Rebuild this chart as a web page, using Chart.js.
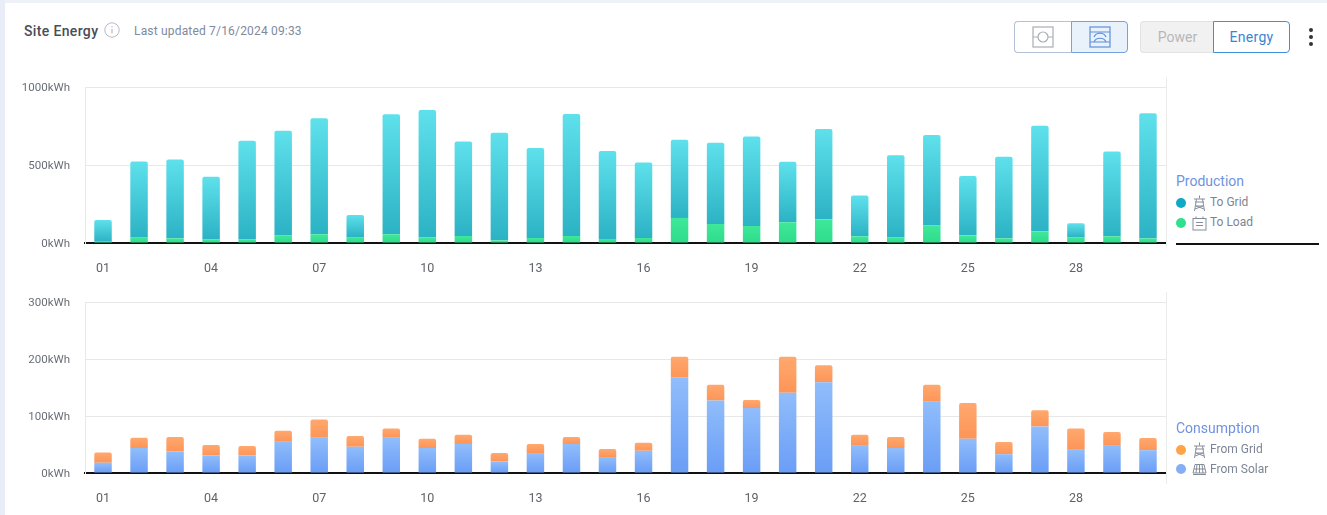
<!DOCTYPE html>
<html>
<head>
<meta charset="utf-8">
<title>Site Energy</title>
<script src="https://cdn.jsdelivr.net/npm/chart.js@4"></script>
<style>
  html, body { margin: 0; padding: 0; background: #fff; }
  body { width: 1327px; height: 515px; position: relative; overflow: hidden; font-family: Roboto, sans-serif; }
  .abs { position: absolute; white-space: nowrap; }
  .edge-top { left: 0; top: 0; width: 1327px; height: 3px; background: #eef1f7; }
  .edge-left { left: 0; top: 0; width: 5px; height: 515px; background: #e8edf8; }
  canvas { position: absolute; left: 0; }
  .title { left: 24px; top: 22px; font-size: 14px; line-height: 18px; font-weight: 500; color: #4a4d55; letter-spacing: 0.35px; }
  .updated { left: 134px; top: 23px; font-size: 12px; line-height: 16px; color: #7d8aa0; letter-spacing: 0.18px; }
  .seg { box-sizing: border-box; top: 21px; height: 32px; }
  .btn { font-size: 14px; line-height: 30px; text-align: center; }
  .legend-title { left: 1176px; font-size: 14px; line-height: 18px; color: #6f93e0; }
  .legend-text { left: 1210px; font-size: 12px; line-height: 16px; color: #7c8595; }
  .dot { width: 10px; height: 10px; border-radius: 50%; left: 1176px; }
  .rule { background: #ececec; width: 1px; }
</style>
</head>
<body>
<div class="abs edge-top"></div>
<div class="abs edge-left"></div>

<div class="abs title">Site Energy</div>
<svg class="abs" style="left:104px;top:22px" width="16" height="16" viewBox="0 0 16 16" fill="none" stroke="#b4b9c4">
  <circle cx="8" cy="8" r="7.2"/><path d="M8 7v4.5M8 4.3v1.2" stroke-width="1.2"/>
</svg>
<div class="abs updated">Last updated 7/16/2024 09:33</div>

<!-- View switch -->
<div class="abs seg" style="left:1014px;width:58px;border:1px solid #b3c0d6;border-right:none;border-radius:4px 0 0 4px;"></div>
<div class="abs seg" style="left:1071px;width:57px;border:1px solid #74a2e2;border-radius:0 4px 4px 0;background:#e9f1fb;"></div>
<svg class="abs" style="left:1032px;top:26px" width="22" height="22" viewBox="0 0 22 22" fill="none" stroke="#a9adb6" stroke-width="1.2">
  <rect x="1" y="1" width="20" height="20"/><circle cx="11" cy="11" r="5"/><path d="M1 11h5M16 11h5"/>
</svg>
<svg class="abs" style="left:1089px;top:26px" width="22" height="22" viewBox="0 0 22 22" fill="none" stroke="#5f8fdc" stroke-width="1.2">
  <rect x="1" y="1" width="20" height="20"/><path d="M1 6h20M1 16h20M5 11c2-5 10-5 12 0M5 16c2-5 10-5 12 0"/>
</svg>

<!-- Power / Energy switch -->
<div class="abs seg btn" style="left:1140px;width:74px;background:#f1f1f1;border:1px solid #e2e2e2;border-right:none;border-radius:4px 0 0 4px;color:#b7b7b7;">Power</div>
<div class="abs seg btn" style="left:1213px;width:77px;background:#fff;border:1px solid #3e90dc;border-radius:0 4px 4px 0;color:#3a86d4;letter-spacing:0.3px;">Energy</div>
<svg class="abs" style="left:1306px;top:27px" width="10" height="20" viewBox="0 0 10 20" fill="#333">
  <circle cx="5" cy="3" r="2"/><circle cx="5" cy="10" r="2"/><circle cx="5" cy="17" r="2"/>
</svg>

<canvas id="productionChart" width="1170" height="210" style="top:70px;width:1170px;height:210px"></canvas>
<canvas id="consumptionChart" width="1170" height="225" style="top:285px;width:1170px;height:225px"></canvas>

<!-- Right-hand edges of the plots -->
<div class="abs rule" style="left:1166px;top:77px;height:170px"></div>
<div class="abs rule" style="left:1166px;top:292px;height:192px"></div>

<!-- Production legend -->
<div class="abs legend-title" style="top:172px">Production</div>
<div class="abs dot" style="top:198px;background:#0fa9c4"></div>
<svg class="abs" style="left:1192px;top:195px" width="15" height="17" viewBox="0 0 15 17" fill="none" stroke="#868d9a">
  <path d="M7.5 0.5v3M2 4h11M3 7h9M4.5 4L2.5 16M10.5 4l2 12M4 11h7M3 14l8-3M12 14l-8-3"/>
</svg>
<div class="abs legend-text" style="top:194px">To Grid</div>
<div class="abs dot" style="top:218px;background:#2fe08c"></div>
<svg class="abs" style="left:1192px;top:216px" width="15" height="15" viewBox="0 0 15 15" fill="none" stroke="#868d9a">
  <rect x="1" y="2.5" width="13" height="11.5"/><path d="M4 2.5V0.5M11 2.5V0.5M4 6.5h7M4 9.5h7"/>
</svg>
<div class="abs legend-text" style="top:214px">To Load</div>
<div class="abs" style="left:1176px;top:243px;width:143px;height:2px;background:#111"></div>

<!-- Consumption legend -->
<div class="abs legend-title" style="top:419px">Consumption</div>
<div class="abs dot" style="top:445px;background:#ffa347"></div>
<svg class="abs" style="left:1192px;top:442px" width="15" height="17" viewBox="0 0 15 17" fill="none" stroke="#868d9a">
  <path d="M7.5 0.5v3M2 4h11M3 7h9M4.5 4L2.5 16M10.5 4l2 12M4 11h7M3 14l8-3M12 14l-8-3"/>
</svg>
<div class="abs legend-text" style="top:441px">From Grid</div>
<div class="abs dot" style="top:464px;background:#85aef7"></div>
<svg class="abs" style="left:1192px;top:463px" width="15" height="12" viewBox="0 0 15 12" fill="none" stroke="#868d9a">
  <path d="M3 1.5h9L14 10H1zM7.5 1.5V10M5 1.5L4 10M10 1.5l1 8.5M2 6h11M1 11.5h13"/>
</svg>
<div class="abs legend-text" style="top:461px">From Solar</div>

<script>
const days = ['01','02','03','04','05','06','07','08','09','10','11','12','13','14','15',
              '16','17','18','19','20','21','22','23','24','25','26','27','28','29','30'];

const toLoad = [8,38,30,24,24,50,56,38,56,37,45,17,32,45,26,32,161,122,109,133,152,43,36,114,49,30,75,36,43,30];
const toGrid = [140,485,506,400,632,670,744,142,769,816,605,690,577,782,564,484,501,521,573,388,579,261,526,578,380,523,677,90,544,802];

const fromSolar = [18,44,38,31,31,56,62,46,62,44,51,20.5,35,51,28,39,168,127,114,141,159,49,44,125,60,33,81.5,42,49,40];
const fromGrid = [18,18,25,18,16.5,18,32,19,16,16,16,14.5,16,12,14,14,36,28,14,63,30,18,19,30,63,21.5,28.5,36,23,21.5];

const productionTicks = [0, 500, 1000];
const consumptionTicks = [0, 100, 200, 300];

// Each bar segment gets its own vertical gradient, spanning just that segment.
function segmentGradient(topColor, bottomColor) {
  return (ctx) => {
    const { chart, datasetIndex, dataIndex } = ctx;
    const y = chart.scales.y;
    if (!y || dataIndex === undefined) return topColor;
    let base = 0;
    for (let i = 0; i < datasetIndex; i++) base += chart.data.datasets[i].data[dataIndex];
    const value = chart.data.datasets[datasetIndex].data[dataIndex];
    const y0 = y.getPixelForValue(base + value);
    const y1 = y.getPixelForValue(base);
    // The scale has no pixel range until the first layout pass has finished.
    if (!Number.isFinite(y0) || !Number.isFinite(y1)) return topColor;
    const g = chart.ctx.createLinearGradient(0, y0, 0, y1);
    g.addColorStop(0, topColor);
    g.addColorStop(1, bottomColor);
    return g;
  };
}

function stackedChart(id, lower, upper, ticks) {
  const makeSet = (s, radius) => ({
    label: s.label,
    data: s.data,
    backgroundColor: segmentGradient(s.colors[0], s.colors[1]),
    borderWidth: 0,
    borderSkipped: false,
    borderRadius: radius,
    barPercentage: 0.485,
    categoryPercentage: 1
  });
  return new Chart(document.getElementById(id), {
    type: 'bar',
    data: {
      labels: days,
      datasets: [
        makeSet(lower, 0),
        makeSet(upper, { topLeft: 2, topRight: 2, bottomLeft: 0, bottomRight: 0 })
      ]
    },
    options: {
      responsive: false,
      animation: false,
      layout: { padding: { top: 17, right: 4, left: 0, bottom: 0 } },
      plugins: { legend: { display: false }, tooltip: { enabled: false } },
      scales: {
        x: {
          stacked: true,
          grid: { display: false, drawTicks: false },
          border: { color: '#111', width: 2 },
          // Fixed axis size with no label overhang, so both plots line up exactly.
          afterFit: (axis) => { axis.height = 37; axis.paddingLeft = 0; axis.paddingRight = 0; },
          ticks: {
            autoSkip: false,
            maxRotation: 0,
            padding: 18,
            color: '#5f6368',
            font: { family: 'Roboto', size: 12.5 },
            callback: (v, i) => (i % 3 === 0 ? days[i] : '')
          }
        },
        y: {
          stacked: true,
          min: ticks[0],
          max: ticks[ticks.length - 1],
          afterFit: (axis) => { axis.width = 85; axis.paddingTop = 0; axis.paddingBottom = 0; },
          afterBuildTicks: (axis) => { axis.ticks = ticks.map((value) => ({ value })); },
          grid: { color: '#e8e8e8', lineWidth: 1, drawTicks: false },
          border: { color: '#e8e8e8', width: 1 },
          ticks: {
            padding: 15,
            labelOffset: 1,
            color: '#6a6e76',
            font: { family: 'Roboto', size: 11.5 },
            callback: (v) => v + 'kWh'
          }
        }
      }
    }
  });
}

stackedChart('productionChart',
  { label: 'To Load', data: toLoad, colors: ['#3fe89a', '#2ddc8a'] },
  { label: 'To Grid', data: toGrid, colors: ['#5fe1ec', '#2bb2c4'] },
  productionTicks);

stackedChart('consumptionChart',
  { label: 'From Solar', data: fromSolar, colors: ['#90bdfb', '#6a9df6'] },
  { label: 'From Grid', data: fromGrid, colors: ['#ffa86e', '#fd9558'] },
  consumptionTicks);
</script>
</body>
</html>
